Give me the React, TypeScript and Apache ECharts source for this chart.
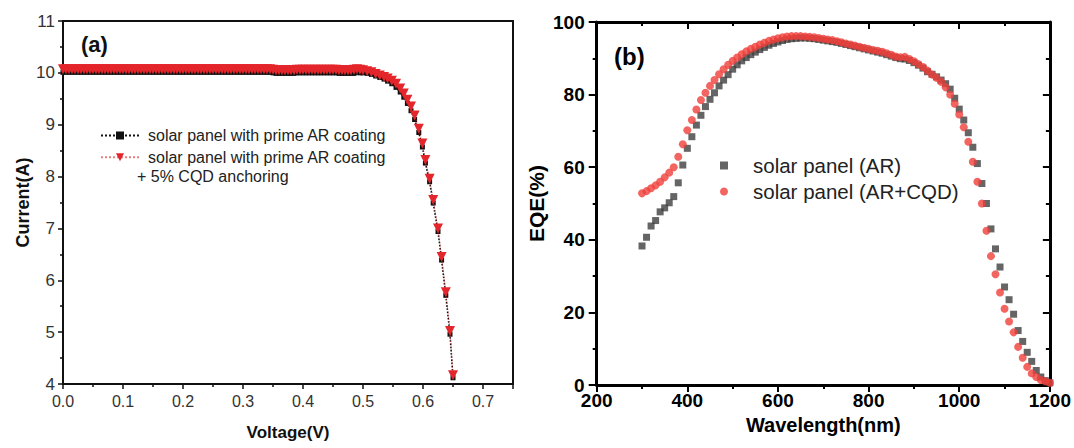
import React, { useEffect, useRef } from "react";
import * as echarts from "echarts";

// ---------- Panel (a): I-V curves ----------
const voltage = [
  0.0, 0.005, 0.01, 0.015, 0.02, 0.025, 0.03, 0.035, 0.04, 0.045,
  0.05, 0.055, 0.06, 0.065, 0.07, 0.075, 0.08, 0.085, 0.09, 0.095,
  0.1, 0.105, 0.11, 0.115, 0.12, 0.125, 0.13, 0.135, 0.14, 0.145,
  0.15, 0.155, 0.16, 0.165, 0.17, 0.175, 0.18, 0.185, 0.19, 0.195,
  0.2, 0.205, 0.21, 0.215, 0.22, 0.225, 0.23, 0.235, 0.24, 0.245,
  0.25, 0.255, 0.26, 0.265, 0.27, 0.275, 0.28, 0.285, 0.29, 0.295,
  0.3, 0.305, 0.31, 0.315, 0.32, 0.325, 0.33, 0.335, 0.34, 0.345,
  0.35, 0.355, 0.36, 0.365, 0.37, 0.375, 0.38, 0.385, 0.39, 0.395,
  0.4, 0.405, 0.41, 0.415, 0.42, 0.425, 0.43, 0.435, 0.44, 0.445,
  0.45, 0.455, 0.46, 0.465, 0.47, 0.475, 0.48, 0.485, 0.49, 0.495,
  0.5,
  0.507, 0.514, 0.521, 0.528, 0.535, 0.541, 0.548, 0.555, 0.562, 0.568,
  0.574, 0.58, 0.586, 0.593, 0.599, 0.604, 0.611, 0.617, 0.625, 0.631,
  0.638, 0.645, 0.65,
];
const currentAR = [
  10.01, 10.01, 10.01, 10.01, 10.01, 10.01, 10.01, 10.01, 10.01, 10.01,
  10.01, 10.01, 10.01, 10.01, 10.01, 10.01, 10.01, 10.01, 10.01, 10.01,
  10.01, 10.01, 10.01, 10.01, 10.01, 10.01, 10.01, 10.01, 10.01, 10.01,
  10.01, 10.01, 10.01, 10.01, 10.01, 10.01, 10.01, 10.01, 10.01, 10.01,
  10.01, 10.01, 10.01, 10.01, 10.01, 10.01, 10.01, 10.01, 10.01, 10.01,
  10.01, 10.01, 10.01, 10.01, 10.01, 10.01, 10.01, 10.01, 10.01, 10.01,
  10.01, 10.01, 10.01, 10.01, 10.01, 10.01, 10.01, 10.01, 10.01, 10.01,
  10.0, 9.99, 9.99, 9.99, 9.99, 9.99, 9.99, 9.99, 10.0, 10.0,
  10.0, 10.0, 10.0, 10.0, 10.0, 10.0, 10.0, 10.0, 10.0, 10.0,
  10.0, 10.0, 9.99, 9.99, 9.99, 9.99, 9.99, 9.99, 10.01, 10.0,
  10.0,
  9.99, 9.97, 9.94, 9.91, 9.88, 9.84, 9.79, 9.72, 9.63, 9.53,
  9.41, 9.27, 9.1, 8.85, 8.57, 8.26, 7.9, 7.49, 6.94, 6.39,
  5.71, 4.96, 4.12,
];
const currentCQD = [
  10.07, 10.07, 10.07, 10.07, 10.07, 10.07, 10.07, 10.07, 10.07, 10.07,
  10.07, 10.07, 10.07, 10.07, 10.07, 10.07, 10.07, 10.07, 10.07, 10.07,
  10.07, 10.07, 10.07, 10.07, 10.07, 10.07, 10.07, 10.07, 10.07, 10.07,
  10.07, 10.07, 10.07, 10.07, 10.07, 10.07, 10.07, 10.07, 10.07, 10.07,
  10.07, 10.07, 10.07, 10.07, 10.07, 10.07, 10.07, 10.07, 10.07, 10.07,
  10.07, 10.07, 10.07, 10.07, 10.07, 10.07, 10.07, 10.07, 10.07, 10.07,
  10.07, 10.07, 10.07, 10.07, 10.07, 10.07, 10.07, 10.07, 10.07, 10.07,
  10.06, 10.05, 10.05, 10.05, 10.05, 10.05, 10.05, 10.05, 10.06, 10.06,
  10.06, 10.06, 10.06, 10.06, 10.06, 10.06, 10.06, 10.06, 10.06, 10.06,
  10.06, 10.06, 10.05, 10.05, 10.05, 10.05, 10.05, 10.06, 10.07, 10.06,
  10.05,
  10.03, 10.01, 9.98, 9.95, 9.92, 9.89, 9.85, 9.79, 9.7, 9.6,
  9.48, 9.35, 9.18, 8.92, 8.64, 8.32, 7.96, 7.55, 7.0, 6.45,
  5.77, 5.02, 4.17,
];
const voltageTickLabels = ["0.0", "0.1", "0.2", "0.3", "0.4", "0.5", "0.6", "0.7"];

// ---------- Panel (b): EQE spectra ----------
const wavelength = [
  300, 310, 320, 330, 340, 350, 360, 370, 380, 390,
  400, 410, 420, 430, 440, 450, 460, 470, 480, 490,
  500, 510, 520, 530, 540, 550, 560, 570, 580, 590,
  600, 610, 620, 630, 640, 650, 660, 670, 680, 690,
  700, 710, 720, 730, 740, 750, 760, 770, 780, 790,
  800, 810, 820, 830, 840, 850, 860, 870, 880, 890,
  900, 910, 920, 930, 940, 950, 960, 970, 980, 990,
  1000, 1010, 1020, 1030, 1040, 1050, 1060, 1070, 1080, 1090,
  1100, 1110, 1120, 1130, 1140, 1150, 1160, 1170, 1180, 1190,
  1200,
];
const eqeAR = [
  38.3, 40.7, 43.8, 45.3, 47.7, 48.8, 50.2, 51.9, 55.7, 60.6,
  65.2, 68.4, 71.6, 74.3, 76.7, 78.7, 80.5, 82.4, 84.0, 85.5,
  87.0, 88.2, 89.3, 90.2, 91.0, 91.7, 92.4, 93.0, 93.6, 94.1,
  94.5, 94.9, 95.2, 95.4, 95.5, 95.6, 95.6, 95.5, 95.4, 95.2,
  95.0, 94.8, 94.6, 94.4, 94.1, 93.8, 93.5, 93.2, 92.9, 92.6,
  92.3, 92.0, 91.7, 91.4, 91.0, 90.6, 90.2, 89.9, 89.8, 89.4,
  88.8, 88.1, 87.3, 86.3, 85.6, 84.9, 84.0, 83.0, 81.5, 79.0,
  76.0, 73.0, 69.5, 65.5, 61.0, 55.5, 50.0, 43.0, 37.5, 32.5,
  27.0, 23.5, 19.5, 15.0, 12.0, 9.0, 6.5, 4.0, 2.2, 1.2,
  0.6,
];
const eqeCQD = [
  52.8, 53.4, 54.2, 55.0, 56.0, 57.2, 58.5, 60.0, 62.9, 66.3,
  70.2, 73.0, 75.9, 78.5, 80.5, 82.4, 84.0, 85.6, 87.0, 88.2,
  89.3, 90.2, 91.1, 91.9, 92.6, 93.2, 93.8, 94.3, 94.8, 95.2,
  95.5, 95.8, 96.0, 96.1, 96.1, 96.1, 96.0, 95.9, 95.8, 95.6,
  95.4, 95.2, 95.0, 94.7, 94.4, 94.1, 93.8, 93.5, 93.2, 92.9,
  92.6, 92.3, 92.1, 91.8, 91.4, 91.0, 90.5, 90.3, 90.4, 89.8,
  89.2, 88.4, 87.6, 86.6, 85.5, 84.6, 83.5, 82.0, 80.0, 77.5,
  74.5, 71.0, 67.0, 61.5, 56.0, 50.0, 42.5, 35.5, 30.5, 25.5,
  21.0, 17.5, 14.5, 10.5, 7.5, 5.0, 3.2, 2.2, 1.4, 1.0,
  0.6,
];

const nameAR = "solar panel with prime AR coating";
const nameCQD = "solar panel with prime AR coating ";
const nameB1 = "solar panel (AR)";
const nameB2 = "solar panel (AR+CQD)";

const FONT = "'Liberation Sans', Arial, Helvetica, sans-serif";

export default function App() {
  const ref = useRef<HTMLDivElement>(null);

  useEffect(() => {
    if (!ref.current) return;
    const chart = echarts.init(ref.current, null, { renderer: "svg" });

    const frameLineA = { show: true, onZero: false, lineStyle: { color: "#111", width: 2 } };
    const frameLineB = { show: true, onZero: false, lineStyle: { color: "#000", width: 3 } };

    const option: any = {
      animation: false,
      grid: [
        { left: 63, top: 21, width: 450, height: 363, show: true, borderColor: "#111", borderWidth: 2 },
        { left: 596.7, top: 22, width: 455, height: 363 },
      ],
      legend: [
        {
          orient: "vertical",
          left: 100,
          top: 127,
          padding: 0,
          itemWidth: 38,
          itemHeight: 10,
          itemGap: 4.7,
          data: [nameAR, nameCQD],
          textStyle: { fontSize: 16, lineHeight: 17, color: "#222", fontFamily: FONT, padding: [0, 0, 0, 4] },
        },
        {
          orient: "vertical",
          left: 720,
          top: 155,
          padding: 0,
          itemWidth: 8,
          itemHeight: 8,
          itemGap: 5,
          data: [nameB1, nameB2],
          textStyle: { fontSize: 20.5, lineHeight: 21, color: "#222", fontFamily: FONT, padding: [0, 0, 0, 20] },
        },
      ],
      xAxis: [
        {
          gridIndex: 0,
          type: "value",
          min: 0,
          max: 0.75,
          interval: 0.1,
          position: "bottom",
          axisLine: frameLineA,
          axisTick: { show: true, inside: false, length: 5, lineStyle: { color: "#111", width: 1.5 } },
          minorTick: { show: true, splitNumber: 2, length: 3, lineStyle: { color: "#111", width: 1.5 } },
          splitLine: { show: false },
          axisLabel: {
            formatter: (v: number) => voltageTickLabels[Math.round(v * 10)] || "",
            fontSize: 16,
            color: "#333",
            margin: 9,
            fontFamily: FONT,
          },
          name: "Voltage(V)",
          nameLocation: "middle",
          nameGap: 40,
          nameTextStyle: { fontWeight: "bold", fontSize: 17, color: "#111", fontFamily: FONT },
        },
        {
          gridIndex: 1,
          type: "value",
          min: 200,
          max: 1200,
          interval: 200,
          position: "bottom",
          axisLine: frameLineB,
          axisTick: { show: true, inside: false, length: 7, lineStyle: { color: "#000", width: 2 } },
          minorTick: { show: true, splitNumber: 2, length: 4, lineStyle: { color: "#000", width: 2 } },
          splitLine: { show: false },
          axisLabel: { formatter: (v: number) => String(v), fontSize: 19, fontWeight: "bold", color: "#000", margin: 6, fontFamily: FONT },
          name: "Wavelength(nm)",
          nameLocation: "middle",
          nameGap: 28,
          nameTextStyle: { fontWeight: "bold", fontSize: 20, color: "#000", fontFamily: FONT },
        },
        {
          gridIndex: 1,
          type: "value",
          min: 200,
          max: 1200,
          interval: 200,
          position: "top",
          axisLine: frameLineB,
          axisTick: { show: true, inside: true, length: 7, lineStyle: { color: "#000", width: 2 } },
          minorTick: { show: true, splitNumber: 2, length: 4, lineStyle: { color: "#000", width: 2 } },
          axisLabel: { show: false },
          splitLine: { show: false },
        },
        {
          gridIndex: 0,
          type: "value",
          min: 0,
          max: 0.75,
          interval: 0.25,
          position: "top",
          axisLine: frameLineA,
          axisTick: { show: true, inside: true, length: 1, lineStyle: { color: "#111", width: 1 } },
          axisLabel: { show: false },
          splitLine: { show: false },
        },
      ],
      yAxis: [
        {
          gridIndex: 0,
          type: "value",
          min: 4,
          max: 11,
          interval: 1,
          position: "left",
          axisLine: frameLineA,
          axisTick: { show: true, inside: false, length: 5, lineStyle: { color: "#111", width: 1.5 } },
          minorTick: { show: true, splitNumber: 2, length: 3, lineStyle: { color: "#111", width: 1.5 } },
          splitLine: { show: false },
          axisLabel: { fontSize: 17, color: "#333", margin: 8, fontFamily: FONT },
          name: "Current(A)",
          nameLocation: "middle",
          nameGap: 29,
          nameTextStyle: { fontWeight: "bold", fontSize: 18, color: "#111", fontFamily: FONT },
        },
        {
          gridIndex: 1,
          type: "value",
          min: 0,
          max: 100,
          interval: 20,
          position: "left",
          axisLine: frameLineB,
          axisTick: { show: true, inside: false, length: 8, lineStyle: { color: "#000", width: 2 } },
          minorTick: { show: true, splitNumber: 2, length: 4, lineStyle: { color: "#000", width: 2 } },
          splitLine: { show: false },
          axisLabel: { fontSize: 19, fontWeight: "bold", color: "#000", margin: 12, fontFamily: FONT },
          name: "EQE(%)",
          nameLocation: "middle",
          nameGap: 50,
          nameTextStyle: { fontWeight: "bold", fontSize: 21, color: "#000", fontFamily: FONT },
        },
        {
          gridIndex: 1,
          type: "value",
          min: 0,
          max: 100,
          interval: 20,
          position: "right",
          axisLine: frameLineB,
          axisTick: { show: true, inside: true, length: 7, lineStyle: { color: "#000", width: 2 } },
          minorTick: { show: true, splitNumber: 2, length: 4, lineStyle: { color: "#000", width: 2 } },
          axisLabel: { show: false },
          splitLine: { show: false },
        },
        {
          gridIndex: 0,
          type: "value",
          min: 4,
          max: 11,
          interval: 1,
          position: "right",
          axisLine: frameLineA,
          axisTick: { show: true, inside: true, length: 1, lineStyle: { color: "#111", width: 1 } },
          axisLabel: { show: false },
          splitLine: { show: false },
        },
      ],
      series: [
        {
          name: nameAR,
          type: "line",
          xAxisIndex: 0,
          yAxisIndex: 0,
          data: voltage.map((v, i) => [v, currentAR[i]]),
          symbol: "rect",
          symbolSize: 5,
          showAllSymbol: true,
          itemStyle: { color: "#111" },
          lineStyle: { color: "#111", width: 1.6, type: "dotted" },
          z: 2,
        },
        {
          name: nameCQD,
          type: "line",
          xAxisIndex: 0,
          yAxisIndex: 0,
          data: voltage.map((v, i) => [v, currentCQD[i]]),
          symbol: "triangle",
          symbolRotate: 180,
          symbolSize: [10, 10],
          showAllSymbol: true,
          itemStyle: { color: "#e3262b" },
          lineStyle: { color: "#e3262b", width: 1, type: "dotted", opacity: 0.6 },
          z: 3,
        },
        {
          name: nameB1,
          type: "scatter",
          xAxisIndex: 1,
          yAxisIndex: 1,
          data: wavelength.map((w, i) => [w, eqeAR[i]]),
          symbol: "rect",
          symbolSize: 7,
          itemStyle: { color: "#3e3e3e" },
          z: 2,
        },
        {
          name: nameB2,
          type: "scatter",
          xAxisIndex: 1,
          yAxisIndex: 1,
          data: wavelength.map((w, i) => [w, eqeCQD[i]]),
          symbol: "circle",
          symbolSize: 8,
          itemStyle: { color: "#ef3f3a" },
          z: 3,
        },
      ],
      graphic: [
        {
          type: "text",
          left: 81,
          top: 33,
          style: { text: "(a)", fontSize: 22, fontWeight: "bold", fill: "#111", fontFamily: FONT },
        },
        {
          type: "text",
          left: 137,
          top: 168,
          style: { text: "+ 5% CQD anchoring", fontSize: 16, fill: "#222", fontFamily: FONT },
        },
        {
          type: "text",
          left: 614,
          top: 44,
          style: { text: "(b)", fontSize: 24, fontWeight: "bold", fill: "#000", fontFamily: FONT },
        },
      ],
    };

    chart.setOption(option);
    return () => chart.dispose();
  }, []);

  return (
    <div
      ref={ref}
      style={{ position: "fixed", left: 0, top: 0, width: 1074, height: 448, background: "#fff" }}
    />
  );
}
